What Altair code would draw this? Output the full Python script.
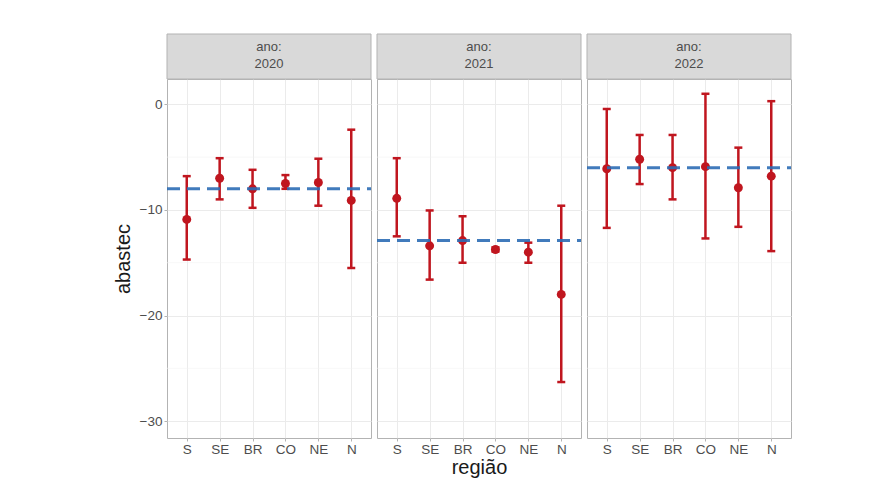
import altair as alt
import pandas as pd

# ---- data ----
YEARS = ["2020", "2021", "2022"]
REGIONS = ["S", "SE", "BR", "CO", "NE", "N"]

MEAN_2020 = [-10.9, -7.0, -8.0, -7.5, -7.4, -9.1]
LOW_2020 = [-14.7, -9.0, -9.8, -8.0, -9.6, -15.5]
UP_2020 = [-6.8, -5.1, -6.2, -6.7, -5.15, -2.4]

MEAN_2021 = [-8.9, -13.4, -12.9, -13.75, -14.0, -18.0]
LOW_2021 = [-12.5, -16.6, -15.0, -13.95, -15.0, -26.3]
UP_2021 = [-5.1, -10.05, -10.6, -13.55, -13.1, -9.6]

MEAN_2022 = [-6.1, -5.2, -6.0, -5.9, -7.9, -6.8]
LOW_2022 = [-11.7, -7.55, -9.0, -12.7, -11.6, -13.9]
UP_2022 = [-0.44, -2.9, -2.9, 1.0, -4.1, 0.3]

YEAR_MEAN = [-8.0, -12.9, -6.0]
Y_TICKS = [-30, -20, -10, 0]
Y_MINOR = [-25, -15, -5]

MEANS = [MEAN_2020, MEAN_2021, MEAN_2022]
LOWS = [LOW_2020, LOW_2021, LOW_2022]
UPS = [UP_2020, UP_2021, UP_2022]

RED = "#c0161f"
BLUE = "#2c6db5"
GRID = "#ebebeb"
TEXT = "#4d4d4d"
W, H = 204, 359

yscale = alt.Scale(domain=[-31.6, 2.4], nice=False, zero=False)
xscale = alt.Scale(type="point", domain=REGIONS, padding=0.6)


def panel(i):
    year = YEARS[i]
    d = pd.DataFrame({
        "regiao": REGIONS,
        "abastec": MEANS[i],
        "lower": LOWS[i],
        "upper": UPS[i],
    })
    m = pd.DataFrame({"ano": [year], "media": [YEAR_MEAN[i]],
                      "label": ["ano:\n" + year]})
    minor = pd.DataFrame({"v": Y_MINOR})

    xaxis_kw = dict(grid=True, gridColor=GRID, gridWidth=1, labelAngle=0,
                    labelFontSize=13.5, labelColor=TEXT, labelPadding=1,
                    tickColor="#b3b3b3", tickSize=3, domain=False,
                    titleFontSize=20, titleFontWeight="normal",
                    titleColor="#1a1a1a", titlePadding=2)
    xaxis_kw["title"] = "região" if i == 1 else None
    x = alt.X("regiao:O", scale=xscale, sort=REGIONS, axis=alt.Axis(**xaxis_kw))

    if i == 0:
        yaxis = alt.Axis(values=Y_TICKS, grid=True, gridColor=GRID, gridWidth=1,
                         labelFontSize=13.5, labelColor=TEXT, labelPadding=2,
                         tickColor="#b3b3b3", tickSize=3, domain=False,
                         title="abastec", titleFontSize=20,
                         titleFontWeight="normal", titleColor="#1a1a1a",
                         titlePadding=6)
    else:
        yaxis = alt.Axis(values=Y_TICKS, grid=True, gridColor=GRID, gridWidth=1,
                         labels=False, ticks=False, domain=False, title=None)

    def Y(field):
        return alt.Y(field, scale=yscale, axis=yaxis)

    base = alt.Chart(d)

    minor_grid = alt.Chart(minor).mark_rule(color="#f2f2f2", strokeWidth=0.6).encode(
        y=Y("v:Q"), x=alt.value(0), x2=alt.value(W))

    bars = base.mark_rule(color=RED, strokeWidth=2.5).encode(
        x=x, y=Y("lower:Q"), y2="upper:Q")
    cap_lo = base.mark_tick(color=RED, thickness=2.5, size=8, opacity=1).encode(
        x=x, y=Y("lower:Q"))
    cap_hi = base.mark_tick(color=RED, thickness=2.5, size=8, opacity=1).encode(
        x=x, y=Y("upper:Q"))
    pts = base.mark_circle(color=RED, size=80, opacity=1).encode(
        x=x, y=Y("abastec:Q"))

    mean_line = alt.Chart(m).mark_rule(color=BLUE, strokeWidth=3,
                                       strokeDash=[13, 7], opacity=0.9).encode(
        y=Y("media:Q"), x=alt.value(0), x2=alt.value(W))

    strip = alt.Chart(m).mark_rect(fill="#d9d9d9", stroke="#b3b3b3",
                                   strokeWidth=1).encode(
        x=alt.value(0), x2=alt.value(W), y=alt.value(-45), y2=alt.value(0))
    strip_txt = alt.Chart(m).mark_text(lineBreak="\n", fontSize=13, color=TEXT,
                                       align="center", baseline="middle",
                                       lineHeight=17).encode(
        x=alt.value(W / 2), y=alt.value(-32), text="label:N")

    return alt.layer(minor_grid, bars, cap_lo, cap_hi, pts, mean_line,
                     strip, strip_txt).properties(width=W, height=H)


chart = alt.hconcat(panel(0), panel(1), panel(2), spacing=2).properties(
    padding={"left": 104, "top": 25, "right": 5, "bottom": 5},
    background="white",
).configure(font="Liberation Sans").configure_view(stroke="#b3b3b3", strokeWidth=1)

chart.save("out.html", embed_options={"renderer": "svg", "actions": False})
